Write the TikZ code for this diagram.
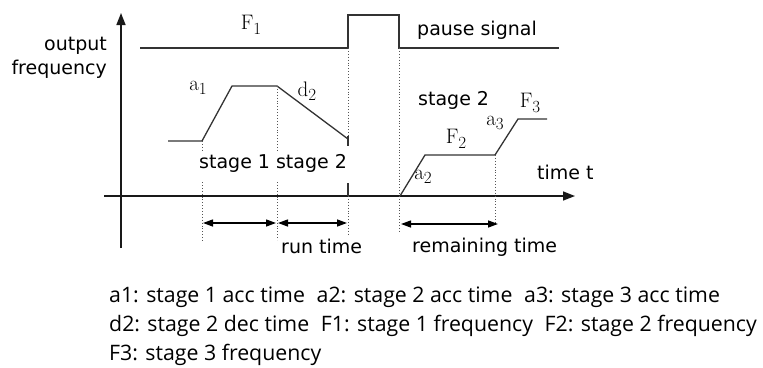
\documentclass[tikz,border=0pt]{standalone}
\usepackage{fontspec}
\usetikzlibrary{arrows.meta}
\newfontfamily\labfont{DejaVu Sans}
\newfontfamily\legfont{Open Sans}
\newcommand{\sublbl}[2]{#1\raisebox{-4.5pt}{\fontsize{17}{17}\selectfont #2}}
\definecolor{lineclr}{HTML}{333333}
\definecolor{dotclr}{HTML}{555555}
\tikzset{
  axisline/.style={line width=1.6pt, draw=black!90, -{Triangle[length=12pt,width=9pt]}},
  sigline/.style={line width=1.3pt, draw=lineclr},
  profline/.style={line width=1.3pt, draw=lineclr},
  guide/.style={line width=0.9pt, draw=dotclr, dotted},
  span/.style={line width=1.3pt, draw=black, {Triangle[length=10pt,width=7pt]}-{Triangle[length=10pt,width=7pt]}},
  sanslbl/.style={inner sep=0pt, anchor=base west, font=\labfont\fontsize{19}{19}\selectfont},
  serlbl/.style={inner sep=0pt, font=\fontsize{21}{21}\selectfont},
  leglbl/.style={inner sep=0pt, anchor=base west, font=\legfont\fontsize{21.3}{22}\selectfont},
}
\begin{document}
\begin{tikzpicture}[x=1pt,y=-1pt]
\useasboundingbox (0,0) rectangle (763,367);
% axes
\coordinate (yb) at (121,248); \coordinate (yt) at (121,13);
\coordinate (xl) at (104,196); \coordinate (xr) at (575,196);
\draw[axisline] (yb) -- (yt);
\draw[axisline] (xl) -- (xr);
% pause signal
\coordinate (s0) at (140,48); \coordinate (s1) at (348,48); \coordinate (s2) at (348,15);
\coordinate (s3) at (399,15); \coordinate (s4) at (399,48); \coordinate (s5) at (559,48);
\draw[sigline] (s0) -- (s1) -- (s2) -- (s3) -- (s4) -- (s5);
% profile 1
\coordinate (p0) at (168,141); \coordinate (p1) at (202,141); \coordinate (p2) at (232,86);
\coordinate (p3) at (277,86); \coordinate (p4) at (348,139);
\draw[profline] (p0) -- (p1) -- (p2) -- (p3) -- (p4);
\draw[profline] (348,136) -- (348,146);
\draw[profline] (348,183) -- (348,196);
% profile 2
\coordinate (q0) at (400,196); \coordinate (q1) at (425,155); \coordinate (q2) at (495,155);
\coordinate (q3) at (518,119); \coordinate (q4) at (547,119);
\draw[profline] (q0) -- (q1) -- (q2) -- (q3) -- (q4);
% guides
\draw[guide] (p1) -- (202,151);
\draw[guide] (202,182) -- (202,242);
\draw[guide] (p3) -- (277,151);
\draw[guide] (277,182) -- (277,240);
\draw[guide] (s1) -- (348,136);
\draw[guide] (348,196) -- (348,236);
\draw[guide] (s4) -- (399,231);
\draw[guide] (q2) -- (495,222);
% spans
\coordinate (a0) at (203,223); \coordinate (a1) at (276,223);
\coordinate (b0) at (278,223); \coordinate (b1) at (347,223);
\coordinate (c0) at (401,224); \coordinate (c1) at (498,224);
\draw[span] (a0) -- (a1);
\draw[span] (b0) -- (b1);
\draw[span] (c0) -- (c1);
% sans labels
\node[sanslbl, anchor=base east] (out1) at (107,50) {output};
\node[sanslbl, anchor=base east] (out2) at (107,74) {frequency};
\node[sanslbl] (pause) at (417,35) {pause signal};
\node[sanslbl] (st2b) at (418,105) {stage 2};
\node[sanslbl] (st12) at (199,168) {stage 1 stage 2};
\node[sanslbl] (timet) at (537,179) {time t};
\node[sanslbl] (run) at (281,253) {run time};
\node[sanslbl] (rem) at (412,252) {remaining time};
% serif labels
\node[serlbl] (F1) at (251,25) {\sublbl{F}{1}};
\node[serlbl] (A1) at (198,88) {\sublbl{a}{1}};
\node[serlbl] (D2) at (307,91) {\sublbl{d}{2}};
\node[serlbl] (A2) at (423,177) {\sublbl{a}{2}};
\node[serlbl] (F2) at (456,139) {\sublbl{F}{2}};
\node[serlbl] (A3) at (495,123) {\sublbl{a}{3}};
\node[serlbl] (F3) at (530,103) {\sublbl{F}{3}};
% legend
\node[leglbl] (L1) at (109,302) {a1: stage 1 acc time\hspace{0.55em}a2: stage 2 acc time\hspace{0.55em}a3: stage 3 acc time};
\node[leglbl] (L2) at (109,331) {d2: stage 2 dec time\hspace{0.55em}F1: stage 1 frequency\hspace{0.55em}F2: stage 2 frequency};
\node[leglbl] (L3) at (109,360) {F3: stage 3 frequency};
\end{tikzpicture}
\end{document}
